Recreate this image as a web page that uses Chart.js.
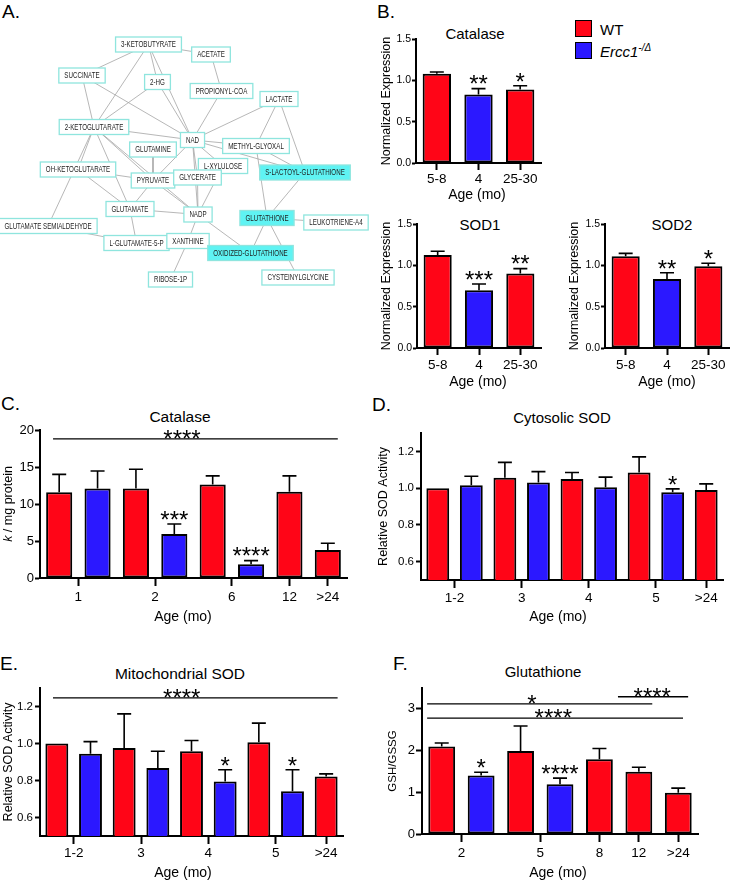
<!DOCTYPE html>
<html><head><meta charset="utf-8">
<script src="https://cdn.jsdelivr.net/npm/chart.js@4.4.1/dist/chart.umd.min.js"></script>
<style>
html,body{margin:0;padding:0;background:#fff;width:730px;height:883px;overflow:hidden;position:relative;font-family:"Liberation Sans",Arial,Helvetica,sans-serif;color:#000}
canvas{position:absolute}
.t{position:absolute;white-space:nowrap;transform:translate(-50%,-50%);line-height:1}
.l{position:absolute;white-space:nowrap;transform:translateY(-50%);line-height:1}
.p{position:absolute;white-space:nowrap;transform:translateY(-50%);line-height:1;font-size:19px}
.box{position:absolute;width:15px;height:15px;border:1.5px solid #000}
</style></head><body>
<div class="p" style="left:2px;top:11px">A.</div>
<div class="p" style="left:377px;top:11px">B.</div>
<div class="p" style="left:1px;top:403px">C.</div>
<div class="p" style="left:372px;top:404px">D.</div>
<div class="p" style="left:0px;top:663px">E.</div>
<div class="p" style="left:393px;top:663px">F.</div>

<div class="t" style="left:475px;top:33px;font-size:15px">Catalase</div>
<div class="t" style="left:480px;top:224px;font-size:15px">SOD1</div>
<div class="t" style="left:672px;top:224px;font-size:15px">SOD2</div>
<div class="t" style="left:180px;top:417px;font-size:15.5px">Catalase</div>
<div class="t" style="left:562px;top:417px;font-size:15px">Cytosolic SOD</div>
<div class="t" style="left:180px;top:674px;font-size:15.5px">Mitochondrial SOD</div>
<div class="t" style="left:543px;top:671px;font-size:15px">Glutathione</div>

<div class="box" style="left:575px;top:20px;background:#FF0517"></div>
<div class="box" style="left:575px;top:42px;background:#2B18FF"></div>
<div class="l" style="left:600px;top:29px;font-size:15px">WT</div>
<div class="l" style="left:600px;top:51px;font-size:15px;font-style:italic">Ercc1<sup style="font-size:10px">-/&#916;</sup></div>

<script>
// ---------------- DATA ----------------
const COLORS = { WT: '#FF0517', KO: '#2B18FF' };

// Panel A: metabolite network
const nodeNames = ['3-KETOBUTYRATE','ACETATE','SUCCINATE','2-HG','PROPIONYL-COA','LACTATE','2-KETOGLUTARATE','NAD','METHYL-GLYOXAL','GLUTAMINE','L-XYLULOSE','OH-KETOGLUTARATE','S-LACTOYL-GLUTATHIONE','PYRUVATE','GLYCERATE','GLUTAMATE','NADP','GLUTATHIONE','LEUKOTRIENE-A4','GLUTAMATE SEMIALDEHYDE','L-GLUTAMATE-5-P','XANTHINE','OXIDIZED-GLUTATHIONE','RIBOSE-1P','CYSTEINYLGLYCINE'];
const nodeX = [148.5,211,82,157.5,221.5,279,94,192.5,256,153,223,78,305,153,197.5,130,198,267,336,48,136.5,188,250.5,170.5,298];
const nodeY = [44.5,54.5,75.5,82,91,99,127,140,146,149.5,166,169.5,172.5,180.5,177.5,209,214.5,218,222.5,226,243,241,253,279.5,277.5];
const highlightedNodes = ['S-LACTOYL-GLUTATHIONE','GLUTATHIONE','OXIDIZED-GLUTATHIONE'];
const edgeFrom = ['3-KETOBUTYRATE','3-KETOBUTYRATE','3-KETOBUTYRATE','3-KETOBUTYRATE','3-KETOBUTYRATE','ACETATE','SUCCINATE','SUCCINATE','2-HG','2-HG','PROPIONYL-COA','LACTATE','LACTATE','LACTATE','2-KETOGLUTARATE','2-KETOGLUTARATE','2-KETOGLUTARATE','2-KETOGLUTARATE','2-KETOGLUTARATE','2-KETOGLUTARATE','NAD','NAD','NAD','NAD','NAD','NAD','METHYL-GLYOXAL','METHYL-GLYOXAL','S-LACTOYL-GLUTATHIONE','GLUTAMINE','OH-KETOGLUTARATE','OH-KETOGLUTARATE','PYRUVATE','PYRUVATE','GLYCERATE','L-XYLULOSE','GLUTAMATE','GLUTAMATE','GLUTAMATE SEMIALDEHYDE','NADP','NADP','XANTHINE','GLUTATHIONE','GLUTATHIONE','GLUTATHIONE'];
const edgeTo = ['SUCCINATE','ACETATE','2-HG','2-KETOGLUTARATE','NAD','PROPIONYL-COA','2-KETOGLUTARATE','NAD','2-KETOGLUTARATE','NAD','NAD','NAD','METHYL-GLYOXAL','S-LACTOYL-GLUTATHIONE','NAD','PYRUVATE','OH-KETOGLUTARATE','GLUTAMATE','GLUTAMATE SEMIALDEHYDE','NADP','METHYL-GLYOXAL','L-XYLULOSE','S-LACTOYL-GLUTATHIONE','PYRUVATE','GLYCERATE','NADP','S-LACTOYL-GLUTATHIONE','GLUTATHIONE','GLUTATHIONE','PYRUVATE','PYRUVATE','GLUTAMATE','GLUTAMATE','NADP','NADP','NADP','NADP','L-GLUTAMATE-5-P','L-GLUTAMATE-5-P','XANTHINE','OXIDIZED-GLUTATHIONE','RIBOSE-1P','OXIDIZED-GLUTATHIONE','LEUKOTRIENE-A4','CYSTEINYLGLYCINE'];

// Panel B: expression
const bCategories = ['5-8', '4', '25-30'];
const bGenotype = ['WT', 'KO', 'WT'];
const bYTicks = [0, 0.5, 1.0, 1.5];
const bCatalaseMean = [1.08, 0.83, 0.89];
const bCatalaseErr = [1.10, 0.90, 0.935];
const bCatalaseSig = ['', '**', '*'];
const bSod1Mean = [1.125, 0.70, 0.90];
const bSod1Err = [1.17, 0.775, 0.96];
const bSod1Sig = ['', '***', '**'];
const bSod2Mean = [1.11, 0.835, 0.99];
const bSod2Err = [1.145, 0.91, 1.025];
const bSod2Sig = ['', '**', '*'];

// Panel C: catalase activity
const cGroups = ['1', '1', '2', '2', '6', '6', '12', '>24'];
const cGenotype = ['WT', 'KO', 'WT', 'KO', 'WT', 'KO', 'WT', 'WT'];
const cMean = [11.6, 12.1, 12.1, 5.95, 12.65, 1.85, 11.65, 3.8];
const cErr = [14.0, 14.45, 14.7, 7.3, 13.8, 2.35, 13.8, 4.7];
const cSig = ['', '', '', '***', '', '****', '', ''];
const cYTicks = [0, 5, 10, 15, 20];
const cLineFrom = [0.84], cLineTo = [8.26], cLineY = [18.8], cLineText = ['****'], cLineTextX = [4.2];

// Panel D: cytosolic SOD
const dGroups = ['1-2', '1-2', '3', '3', '4', '4', '5', '5', '>24'];
const dGenotype = ['WT', 'KO', 'WT', 'KO', 'WT', 'KO', 'WT', 'KO', 'WT'];
const dMean = [1.00, 1.016, 1.056, 1.03, 1.05, 1.005, 1.085, 0.977, 0.99];
const dErr = [null, 1.065, 1.14, 1.09, 1.085, 1.06, 1.17, 0.996, 1.023];
const dSig = ['', '', '', '', '', '', '', '*', ''];
const sodYTicks = [0.6, 0.8, 1.0, 1.2];

// Panel E: mitochondrial SOD
const eGroups = ['1-2', '1-2', '3', '3', '4', '4', '5', '5', '>24'];
const eGenotype = ['WT', 'KO', 'WT', 'KO', 'WT', 'KO', 'WT', 'KO', 'WT'];
const eMean = [1.00, 0.945, 0.976, 0.868, 0.958, 0.795, 1.007, 0.742, 0.822];
const eErr = [null, 1.01, 1.16, 0.958, 1.016, 0.858, 1.11, 0.858, 0.836];
const eSig = ['', '', '', '', '', '*', '', '*', ''];
const eLineFrom = [0.886], eLineTo = [9.34], eLineY = [1.247], eLineText = ['****'], eLineTextX = [4.71];

// Panel F: glutathione
const fGroups = ['2', '2', '5', '5', '8', '12', '>24'];
const fGenotype = ['WT', 'KO', 'WT', 'KO', 'WT', 'WT', 'WT'];
const fMean = [2.10, 1.40, 1.99, 1.19, 1.79, 1.49, 0.99];
const fErr = [2.18, 1.48, 2.59, 1.34, 2.05, 1.60, 1.10];
const fSig = ['', '*', '', '****', '', '', ''];
const fYTicks = [0, 1, 2, 3];
const fLineFrom = [5.47, 0.63, 0.63], fLineTo = [7.25, 6.34, 7.12], fLineY = [3.29, 3.12, 2.78];
const fLineText = ['****', '*', '****'], fLineTextX = [6.34, 3.29, 3.83];

// ---------------- RENDERING ----------------
Chart.defaults.font.family = '"Liberation Sans", Arial, Helvetica, sans-serif';
Chart.defaults.color = '#000';

const STAR_SIZE = 24;
function drawStars(ctx, text, x, yCenter) {
  ctx.font = STAR_SIZE + 'px "Liberation Sans", Arial, sans-serif';
  ctx.textAlign = 'center';
  ctx.textBaseline = 'alphabetic';
  ctx.fillText(text, x, yCenter + 0.575 * STAR_SIZE);
}

const annotPlugin = {
  id: 'annot',
  afterDatasetsDraw(chart, args, o) {
    if (!o || !o.err) return;
    const ctx = chart.ctx, ys = chart.scales.y, xs = chart.scales.x;
    const meta = chart.getDatasetMeta(0);
    ctx.save();
    ctx.strokeStyle = '#000'; ctx.fillStyle = '#000'; ctx.lineCap = 'butt';
    o.err.forEach((e, i) => {
      if (e == null) return;
      const el = meta.data[i];
      const yt = ys.getPixelForValue(e);
      ctx.lineWidth = 1.6;
      ctx.beginPath();
      ctx.moveTo(el.x, el.y); ctx.lineTo(el.x, yt);
      ctx.moveTo(el.x - 7, yt); ctx.lineTo(el.x + 7, yt);
      ctx.stroke();
    });
    (o.sig || []).forEach((s, i) => {
      if (!s) return;
      const el = meta.data[i];
      const top = o.err[i] != null ? ys.getPixelForValue(o.err[i]) : el.y;
      drawStars(ctx, s, el.x, top - 10);
    });
    if (o.lines) {
      const L = o.lines;
      L.from.forEach((f, k) => {
        const y = ys.getPixelForValue(L.y[k]);
        ctx.lineWidth = 1.3;
        ctx.beginPath();
        ctx.moveTo(xs.getPixelForValue(f), y);
        ctx.lineTo(xs.getPixelForValue(L.to[k]), y);
        ctx.stroke();
        drawStars(ctx, L.text[k], xs.getPixelForValue(L.textX[k]), y - 5.5);
      });
    }
    // x axis title, centred where the reference has it
    if (o.xTitle) {
      ctx.font = o.xTitleSize + 'px "Liberation Sans", Arial, sans-serif';
      ctx.textAlign = 'center'; ctx.textBaseline = 'middle';
      ctx.fillText(o.xTitle, o.xTitleX, o.xTitleY);
    }
    if (o.richYTitle) {
      const parts = o.richYTitle, size = o.richSize;
      const cx = chart.scales.y.left + 2 + size * 0.6;
      const cy = (chart.chartArea.top + chart.chartArea.bottom) / 2;
      ctx.save();
      ctx.translate(cx, cy); ctx.rotate(-Math.PI / 2);
      ctx.textBaseline = 'middle'; ctx.textAlign = 'left';
      const fonts = parts.map(p => (p.italic ? 'italic ' : '') + size + 'px "Liberation Sans", Arial, sans-serif');
      let total = 0;
      const widths = parts.map((p, i) => { ctx.font = fonts[i]; const w = ctx.measureText(p.text).width; total += w; return w; });
      let x = -total / 2;
      parts.forEach((p, i) => { ctx.font = fonts[i]; ctx.fillText(p.text, x, 0); x += widths[i]; });
      ctx.restore();
    }
    ctx.restore();
  }
};

function makeBar(o) {
  const lhY = o.yTitleSize * 1.2, lhX = o.xTitleSize * 1.2;
  const cl = Math.round(o.yTitleX - lhY / 2 - 2);
  const ct = o.T - 12;
  const cr = o.R + 8;
  const cb = Math.round(o.xTitleY + lhX / 2 + 2);
  const cv = document.createElement('canvas');
  cv.width = cr - cl; cv.height = cb - ct;
  cv.style.left = cl + 'px'; cv.style.top = ct + 'px';
  document.body.appendChild(cv);
  const yW = o.L - cl, xH = cb - o.B;
  const n = o.mean.length;
  const colors = o.genotype.map(g => COLORS[g]);
  const xTitle = { display: false };
  const xGrid = { drawOnChartArea: false, drawTicks: true, tickLength: o.xTl, tickWidth: 2, tickColor: '#000', offset: false };
  const xBorder = { display: true, color: '#000', width: 2 };
  let xScale, data, labels;
  if (o.groups) {
    const groupNames = [...new Set(o.groups)];
    const groupPos = groupNames.map(g => {
      const idx = [];
      o.groups.forEach((v, i) => { if (v === g) idx.push(i + 1); });
      return idx.reduce((a, b) => a + b, 0) / idx.length;
    });
    data = o.mean.map((v, i) => ({ x: i + 1, y: v }));
    xScale = {
      type: 'linear', min: 0.5, max: n + 0.5, offset: false,
      afterBuildTicks: s => { s.ticks = groupPos.map(p => ({ value: p })); },
      ticks: { autoSkip: false, maxRotation: 0, font: { size: o.xTickSize }, padding: o.xTickPad, color: '#000',
        callback: v => { const k = groupPos.findIndex(p => Math.abs(p - v) < 1e-6); return k >= 0 ? groupNames[k] : ''; } },
      grid: xGrid, border: xBorder, title: xTitle,
      afterFit: s => { s.height = xH; }
    };
  } else {
    data = o.mean.slice();
    labels = o.categories;
    xScale = {
      type: 'category', offset: true,
      ticks: { autoSkip: false, maxRotation: 0, font: { size: o.xTickSize }, padding: o.xTickPad, color: '#000' },
      grid: xGrid, border: xBorder, title: xTitle,
      afterFit: s => { s.height = xH; }
    };
  }
  const annot = { err: o.err, sig: o.sig, xTitle: 'Age (mo)', xTitleSize: o.xTitleSize,
    xTitleX: (o.xTitleCX != null ? o.xTitleCX : (o.L + o.R) / 2) - cl, xTitleY: o.xTitleY - ct };
  if (o.lines) annot.lines = o.lines;
  if (o.richYTitle) { annot.richYTitle = o.richYTitle; annot.richSize = o.yTitleSize; }
  return new Chart(cv, {
    type: 'bar',
    data: { labels: labels, datasets: [{ data: data, backgroundColor: colors, borderColor: '#000', borderWidth: 2, borderSkipped: false, barPercentage: 0.68, categoryPercentage: 1 }] },
    options: {
      responsive: false, animation: false, events: [],
      layout: { padding: { top: 12, right: 8, left: 0, bottom: 0 } },
      scales: {
        x: xScale,
        y: {
          type: 'linear', min: o.yMin, max: o.yMax,
          afterBuildTicks: s => { s.ticks = o.yTicks.map(v => ({ value: v })); },
          ticks: { autoSkip: false, font: { size: o.yTickSize }, padding: o.yTickPad, color: '#000', callback: v => o.yFmt(v) },
          grid: { drawOnChartArea: false, drawTicks: true, tickLength: o.yTl, tickWidth: 2, tickColor: '#000' },
          border: { display: true, color: '#000', width: 2 },
          title: { display: !o.richYTitle, text: o.yTitle || '', font: { size: o.yTitleSize }, padding: { top: 2, bottom: 0 }, color: '#000' },
          afterFit: s => { s.width = yW; }
        }
      },
      plugins: { legend: { display: false }, tooltip: { enabled: false }, annot: annot }
    },
    plugins: [annotPlugin]
  });
}

const fmt1 = v => v.toFixed(1), fmt0 = v => String(v);
const bCommon = { categories: bCategories, genotype: bGenotype, yTicks: bYTicks, yMin: 0, yMax: 1.5, yFmt: fmt1,
  yTitle: 'Normalized Expression', yTitleSize: 12.5, xTitleSize: 14, xTickSize: 13.5, xTl: 7, yTickSize: 10.5, yTl: 4, yTickPad: 1 };

makeBar(Object.assign({}, bCommon, { L: 416, T: 39, R: 541, B: 163, yTitleX: 386, xTitleY: 195, xTitleCX: 477, xTickPad: 1,
  mean: bCatalaseMean, err: bCatalaseErr, sig: bCatalaseSig }));
makeBar(Object.assign({}, bCommon, { L: 417, T: 224, R: 541, B: 348, yTitleX: 386.7, xTitleY: 382, xTitleCX: 478, xTickPad: 2,
  mean: bSod1Mean, err: bSod1Err, sig: bSod1Sig }));
makeBar(Object.assign({}, bCommon, { L: 605, T: 224, R: 729, B: 348, yTitleX: 574, xTitleY: 382, xTitleCX: 667, xTickPad: 2,
  mean: bSod2Mean, err: bSod2Err, sig: bSod2Sig }));

makeBar({ L: 40, T: 430, R: 347, B: 578, yTitleX: 8, yTitleSize: 12.5,
  richYTitle: [{ text: 'k', italic: true }, { text: ' / mg protein' }],
  xTitleY: 617, xTitleCX: 183, xTitleSize: 14, xTickSize: 13.5, xTl: 8, xTickPad: 3, yTickSize: 13, yTl: 5, yTickPad: 1,
  yMin: 0, yMax: 20, yTicks: cYTicks, yFmt: fmt0,
  groups: cGroups, genotype: cGenotype, mean: cMean, err: cErr, sig: cSig,
  lines: { from: cLineFrom, to: cLineTo, y: cLineY, text: cLineText, textX: cLineTextX } });

makeBar({ L: 421, T: 433, R: 723, B: 580, yTitleX: 383, yTitleSize: 12.5, yTitle: 'Relative SOD Activity',
  xTitleY: 617, xTitleCX: 558, xTitleSize: 14, xTickSize: 13.5, xTl: 8, xTickPad: 2, yTickSize: 11.5, yTl: 5, yTickPad: 2,
  yMin: 0.5, yMax: 1.3, yTicks: sodYTicks, yFmt: fmt1,
  groups: dGroups, genotype: dGenotype, mean: dMean, err: dErr, sig: dSig });

makeBar({ L: 40, T: 688, R: 343, B: 836, yTitleX: 8, yTitleSize: 12.5, yTitle: 'Relative SOD Activity',
  xTitleY: 873, xTitleCX: 183, xTitleSize: 14, xTickSize: 13.5, xTl: 8, xTickPad: 1.5, yTickSize: 11.5, yTl: 5, yTickPad: 2,
  yMin: 0.5, yMax: 1.3, yTicks: sodYTicks, yFmt: fmt1,
  groups: eGroups, genotype: eGenotype, mean: eMean, err: eErr, sig: eSig,
  lines: { from: eLineFrom, to: eLineTo, y: eLineY, text: eLineText, textX: eLineTextX } });

makeBar({ L: 422, T: 688, R: 698, B: 834, yTitleX: 393, yTitleSize: 11.5, yTitle: 'GSH/GSSG',
  xTitleY: 873, xTitleCX: 558, xTitleSize: 14, xTickSize: 13.5, xTl: 8, xTickPad: 3, yTickSize: 13, yTl: 6, yTickPad: 1,
  yMin: 0, yMax: 3.5, yTicks: fYTicks, yFmt: fmt0,
  groups: fGroups, genotype: fGenotype, mean: fMean, err: fErr, sig: fSig,
  lines: { from: fLineFrom, to: fLineTo, y: fLineY, text: fLineText, textX: fLineTextX } });

// ---- Panel A network ----
const NODE_FONT = 8.4, NODE_SQUEEZE = 0.74;
const nodePlugin = {
  id: 'nodes',
  afterDatasetsDraw(chart) {
    const ctx = chart.ctx, xs = chart.scales.x, ys = chart.scales.y;
    ctx.save();
    ctx.font = NODE_FONT + 'px "Liberation Sans", Arial, sans-serif';
    ctx.textAlign = 'center'; ctx.textBaseline = 'middle';
    nodeNames.forEach((name, i) => {
      const px = xs.getPixelForValue(nodeX[i]), py = ys.getPixelForValue(nodeY[i]);
      const tw = ctx.measureText(name).width * NODE_SQUEEZE;
      const w = tw + 11, h = 15;
      const hl = highlightedNodes.includes(name);
      ctx.fillStyle = hl ? '#5FF3F3' : '#FFFFFF';
      ctx.fillRect(px - w / 2, py - h / 2, w, h);
      ctx.strokeStyle = '#8FE5DE'; ctx.lineWidth = 1.3;
      ctx.strokeRect(px - w / 2, py - h / 2, w, h);
      ctx.fillStyle = '#1e1e1e';
      ctx.save();
      ctx.translate(px, py + 0.5);
      ctx.scale(NODE_SQUEEZE, 1);
      ctx.fillText(name, 0, 0);
      ctx.restore();
    });
    ctx.restore();
  }
};
const edgePoints = [];
edgeFrom.forEach((f, k) => {
  const a = nodeNames.indexOf(f), b = nodeNames.indexOf(edgeTo[k]);
  edgePoints.push({ x: nodeX[a], y: nodeY[a] }, { x: nodeX[b], y: nodeY[b] }, { x: null, y: null });
});
const netCv = document.createElement('canvas');
netCv.width = 370; netCv.height = 300;
netCv.style.left = '0px'; netCv.style.top = '0px';
document.body.appendChild(netCv);
new Chart(netCv, {
  type: 'scatter',
  data: { datasets: [{ data: edgePoints, showLine: true, spanGaps: false, borderColor: '#a4a4a4', borderWidth: 0.8, pointRadius: 0, pointHoverRadius: 0 }] },
  options: {
    responsive: false, animation: false, events: [],
    layout: { padding: 0 },
    scales: { x: { type: 'linear', min: 0, max: 370, display: false }, y: { type: 'linear', min: 0, max: 300, reverse: true, display: false } },
    plugins: { legend: { display: false }, tooltip: { enabled: false } }
  },
  plugins: [nodePlugin]
});
</script>
</body></html>
